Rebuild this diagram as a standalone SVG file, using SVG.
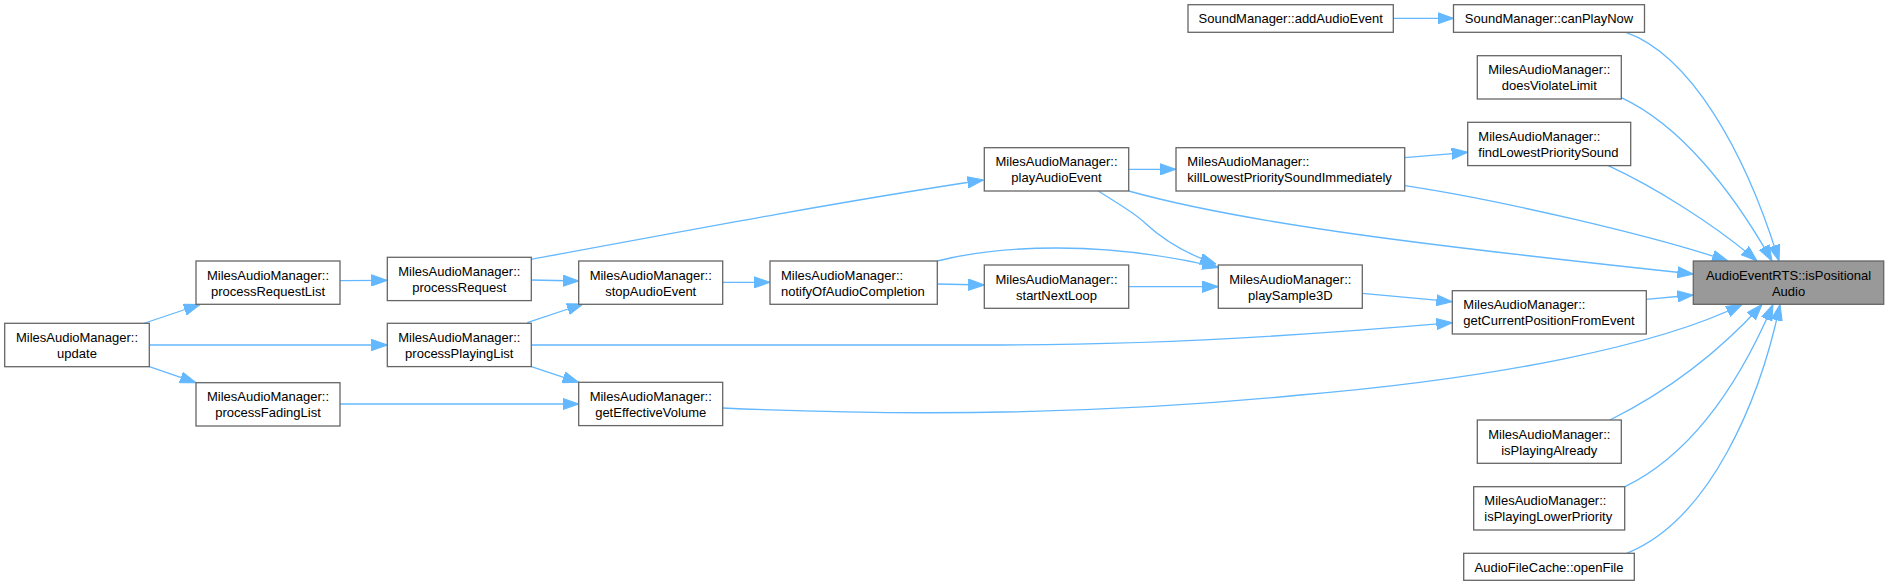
<svg xmlns="http://www.w3.org/2000/svg" width="1889" height="585" viewBox="0 0 1889 585">
<style>
.n rect{fill:#ffffff;stroke:#666666;stroke-width:1.3}
.n.hl rect{fill:#999999}
.n text{font-family:"Liberation Sans",Arial,sans-serif;font-size:13px;fill:#000000}
.c{text-anchor:middle}
.e path{fill:none;stroke:#63b8ff;stroke-width:1.3;marker-end:url(#ah)}
</style>
<defs>
<marker id="ah" markerUnits="userSpaceOnUse" markerWidth="16" markerHeight="12" refX="15" refY="5.25" orient="auto" viewBox="0 0 15 10.5">
<path d="M0,0 L15,5.25 L0,10.5 z" fill="#63b8ff" stroke="#63b8ff" stroke-width="1"/>
</marker>
</defs>
<rect width="1889" height="585" fill="#ffffff"/>
<g id="edges" class="e">
<path d="M143.5,323.5 L200,304.5"/>
<path d="M149.3,345 L387.3,345"/>
<path d="M149.3,366.7 L196,382.7"/>
<path d="M340,280.7 L387.3,280.3"/>
<path d="M531.3,259.3 C700,228 850,200 983.5,180"/>
<path d="M531.3,280 L578.7,281"/>
<path d="M527.3,322.7 L583,304"/>
<path d="M531.3,366.7 L578.7,382.3"/>
<path d="M531.3,345 L1000,345 C1150,345 1300,336 1452.3,322.7"/>
<path d="M340,404 L578.7,404"/>
<path d="M722.7,282.3 L770,282.3"/>
<path d="M937.3,284 L984.3,285"/>
<path d="M937.3,261 C980,250 1020,248 1057,248 C1120,248 1170,256 1218.3,267.5"/>
<path d="M1128.7,169.3 L1176,169.3"/>
<path d="M1098.3,191 C1120,205 1135,213 1145,223 C1160,237 1180,252 1216,264"/>
<path d="M1128.7,191 C1250,225 1450,248 1693.3,274"/>
<path d="M1128.7,286.7 L1218.3,286.7"/>
<path d="M1404.7,157.7 L1467.7,152.3"/>
<path d="M1404.7,185.7 C1500,200 1650,235 1728,261"/>
<path d="M1608.3,165.7 C1650,185 1712,222 1757,261"/>
<path d="M1393.3,18.3 L1453.5,18.3"/>
<path d="M1626,32.3 C1690,55 1745,150 1779,261"/>
<path d="M1621.3,97.7 C1680,125 1732,190 1772,261"/>
<path d="M1362.3,293.3 L1452.3,301.7"/>
<path d="M1646.3,299.3 L1693.3,295"/>
<path d="M722.7,408 C900,416 1100,415 1300,395 C1500,378 1660,345 1742,304.5"/>
<path d="M1610,420 C1680,385 1730,340 1762,304.5"/>
<path d="M1625,486.7 C1700,450 1745,370 1773,304.5"/>
<path d="M1626.7,553.3 C1710,520 1760,400 1780,304.5"/>
</g>
<g id="update" class="n"><rect x="4.7" y="323.3" width="144.6" height="43.4"/><text class="c" x="77" y="342">MilesAudioManager::</text><text class="c" x="77" y="358">update</text></g>
<g id="processRequestList" class="n"><rect x="196" y="261" width="144" height="43.3"/><text class="c" x="268" y="279.7">MilesAudioManager::</text><text class="c" x="268" y="295.7">processRequestList</text></g>
<g id="processFadingList" class="n"><rect x="196" y="382.7" width="144" height="43.3"/><text class="c" x="268" y="401.4">MilesAudioManager::</text><text class="c" x="268" y="417.4">processFadingList</text></g>
<g id="processRequest" class="n"><rect x="387.3" y="257.3" width="144" height="43.3"/><text class="c" x="459.3" y="276">MilesAudioManager::</text><text class="c" x="459.3" y="292">processRequest</text></g>
<g id="processPlayingList" class="n"><rect x="387.3" y="323.3" width="144" height="43.3"/><text class="c" x="459.3" y="342">MilesAudioManager::</text><text class="c" x="459.3" y="358">processPlayingList</text></g>
<g id="stopAudioEvent" class="n"><rect x="578.7" y="261" width="144" height="43.3"/><text class="c" x="650.7" y="279.7">MilesAudioManager::</text><text class="c" x="650.7" y="295.7">stopAudioEvent</text></g>
<g id="getEffectiveVolume" class="n"><rect x="578.7" y="382.3" width="144" height="43.3"/><text class="c" x="650.7" y="401">MilesAudioManager::</text><text class="c" x="650.7" y="417">getEffectiveVolume</text></g>
<g id="notifyOfAudioCompletion" class="n"><rect x="770" y="261" width="167.3" height="43.3"/><text x="781" y="279.7">MilesAudioManager::</text><text x="781" y="295.7">notifyOfAudioCompletion</text></g>
<g id="playAudioEvent" class="n"><rect x="984.3" y="147.7" width="144.4" height="43.3"/><text class="c" x="1056.5" y="166.4">MilesAudioManager::</text><text class="c" x="1056.5" y="182.4">playAudioEvent</text></g>
<g id="startNextLoop" class="n"><rect x="984.3" y="265" width="144.4" height="43.3"/><text class="c" x="1056.5" y="283.7">MilesAudioManager::</text><text class="c" x="1056.5" y="299.7">startNextLoop</text></g>
<g id="killLowestPrioritySoundImmediately" class="n"><rect x="1176" y="147.7" width="228.7" height="43.3"/><text x="1187.3" y="166.4">MilesAudioManager::</text><text x="1187.3" y="182.4">killLowestPrioritySoundImmediately</text></g>
<g id="playSample3D" class="n"><rect x="1218.3" y="265" width="144" height="43.3"/><text class="c" x="1290.3" y="283.7">MilesAudioManager::</text><text class="c" x="1290.3" y="299.7">playSample3D</text></g>
<g id="addAudioEvent" class="n"><rect x="1188" y="4.7" width="205.3" height="27.6"/><text class="c" x="1290.7" y="23">SoundManager::addAudioEvent</text></g>
<g id="canPlayNow" class="n"><rect x="1453.5" y="4.7" width="191" height="27.6"/><text class="c" x="1549" y="23">SoundManager::canPlayNow</text></g>
<g id="doesViolateLimit" class="n"><rect x="1477.3" y="55.7" width="144" height="43.3"/><text class="c" x="1549.3" y="74.4">MilesAudioManager::</text><text class="c" x="1549.3" y="90.4">doesViolateLimit</text></g>
<g id="findLowestPrioritySound" class="n"><rect x="1467.7" y="122.3" width="163" height="43.3"/><text x="1478.3" y="141">MilesAudioManager::</text><text x="1478.3" y="157">findLowestPrioritySound</text></g>
<g id="getCurrentPositionFromEvent" class="n"><rect x="1452.3" y="290.7" width="194" height="43.3"/><text x="1463.3" y="309.4">MilesAudioManager::</text><text x="1463.3" y="325.4">getCurrentPositionFromEvent</text></g>
<g id="isPlayingAlready" class="n"><rect x="1477.3" y="420" width="144" height="43.3"/><text class="c" x="1549.3" y="438.7">MilesAudioManager::</text><text class="c" x="1549.3" y="454.7">isPlayingAlready</text></g>
<g id="isPlayingLowerPriority" class="n"><rect x="1473.7" y="486.7" width="151" height="43.3"/><text x="1484.3" y="505.4">MilesAudioManager::</text><text x="1484.3" y="521.4">isPlayingLowerPriority</text></g>
<g id="openFile" class="n"><rect x="1463.7" y="553.3" width="170.6" height="27"/><text class="c" x="1549" y="571.6">AudioFileCache::openFile</text></g>
<g id="isPositionalAudio" class="n hl"><rect x="1693.3" y="261" width="190.4" height="43.3"/><text class="c" x="1788.5" y="279.7">AudioEventRTS::isPositional</text><text class="c" x="1788.5" y="295.7">Audio</text></g>
</svg>
